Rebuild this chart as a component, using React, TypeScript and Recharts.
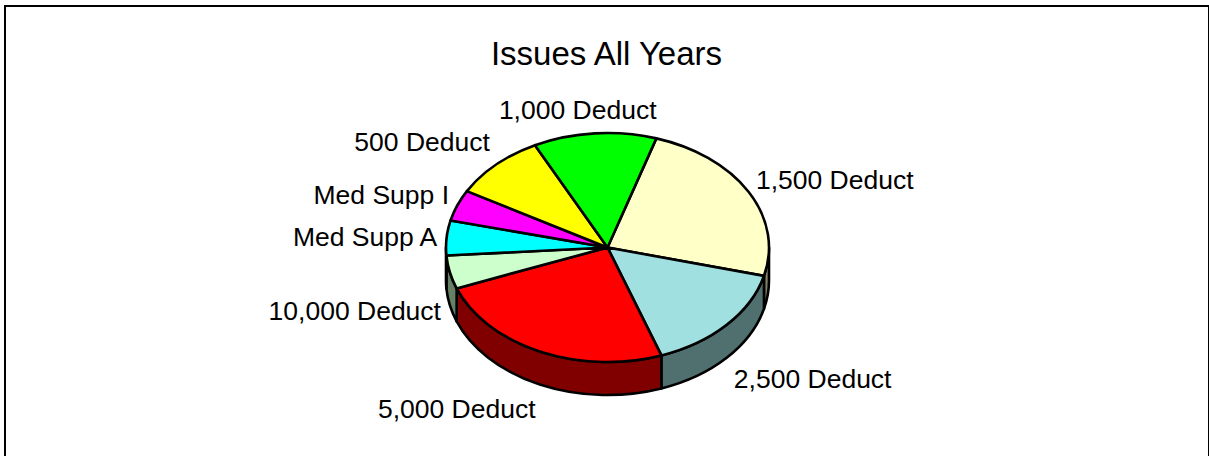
import React from "react";
import { PieChart, Pie, Cell } from "recharts";

const planNames = ["1,500 Deduct", "2,500 Deduct", "5,000 Deduct", "10,000 Deduct", "Med Supp A", "Med Supp I", "500 Deduct", "1,000 Deduct"];
const planShares = [24.1, 15.6, 24.6, 4.7, 4.9, 4.4, 9.4, 12.3];
const topColors = ["#FFFFC8", "#A0E0E0", "#FF0000", "#CCFFCC", "#00FFFF", "#FF00FF", "#FFFF00", "#00FF00"];
const wallColors = ["#808064", "#507070", "#800000", "#668066", "#008080", "#800080", "#808000", "#008000"];

const pieData = planNames.map((name, i) => ({ name, value: planShares[i] }));

const WIDTH = 1209;
const HEIGHT = 456;
const CENTER_X = 607.5;
const CENTER_Y = 247.5;
const RADIUS_X = 161.5;
const TILT = 114.5 / 161.5;
const DEPTH = 33;
const LINE = 2.6;
const FONT = "'Liberation Sans', Arial, sans-serif";
const RAD = Math.PI / 180;

// Offset of each label's centre from the rim point at the slice's mid angle.
const labelOffsets: [number, number][] = [
  [86, -12],
  [86, 54],
  [-83, 58],
  [-95, 39],
  [-81.5, -1],
  [-76, -10],
  [-74, -23],
  [-17, -23],
];

const rimPoint = (cx: number, cy: number, rx: number, deg: number) => ({
  x: cx + rx * Math.cos(deg * RAD),
  y: cy - rx * TILT * Math.sin(deg * RAD),
});

// Flattened slice: the top face of the disc.
const TopSlice = (props: any) => {
  const { cx, cy, outerRadius: rx, startAngle, endAngle, fill } = props;
  const a = rimPoint(cx, cy, rx, startAngle);
  const b = rimPoint(cx, cy, rx, endAngle);
  const large = Math.abs(startAngle - endAngle) > 180 ? 1 : 0;
  const d = `M${cx},${cy}L${a.x},${a.y}A${rx},${rx * TILT} 0 ${large} 1 ${b.x},${b.y}Z`;
  return <path d={d} fill={fill} stroke="#000" strokeWidth={LINE} strokeLinejoin="round" />;
};

// Front-facing part of the rim, extruded downward.
const WallSlice = (props: any) => {
  const { cx, cy, outerRadius: rx, startAngle, endAngle, fill } = props;
  const lowAngle = Math.min(startAngle, endAngle);
  const highAngle = Math.max(startAngle, endAngle);
  const parts: React.ReactNode[] = [];
  [-360, 0, 360].forEach((turn) => {
    const lo = Math.max(lowAngle, turn - 180);
    const hi = Math.min(highAngle, turn);
    if (hi <= lo) return;
    const a = rimPoint(cx, cy, rx, hi);
    const b = rimPoint(cx, cy, rx, lo);
    const ry = rx * TILT;
    const d = `M${a.x},${a.y}A${rx},${ry} 0 0 1 ${b.x},${b.y}L${b.x},${b.y + DEPTH}A${rx},${ry} 0 0 0 ${a.x},${a.y + DEPTH}Z`;
    parts.push(<path key={turn} d={d} fill={fill} stroke="#000" strokeWidth={LINE} strokeLinejoin="round" />);
  });
  return <g>{parts}</g>;
};

const SliceLabel = (props: any) => {
  const { cx, cy, outerRadius, midAngle, index, name } = props;
  const rim = rimPoint(cx, cy, outerRadius, midAngle);
  const [dx, dy] = labelOffsets[index];
  return (
    <text x={rim.x + dx} y={rim.y + dy} textAnchor="middle" dominantBaseline="central" fontFamily={FONT} fontSize={26.5} fill="#000">
      {name}
    </text>
  );
};

export default function App() {
  return (
    <div style={{ position: "absolute", left: 0, top: 0, width: WIDTH, height: HEIGHT, overflow: "hidden", background: "#fff" }}>
      <div style={{ position: "absolute", left: 4, top: 5, width: 1202, height: 480, border: "2px solid #000" }} />
      <PieChart width={WIDTH} height={HEIGHT} margin={{ top: 0, right: 0, bottom: 0, left: 0 }} style={{ position: "absolute", left: 0, top: 0 }}>
        <text x={606.5} y={53} textAnchor="middle" dominantBaseline="central" fontFamily={FONT} fontSize={33} fill="#000">
          Issues All Years
        </text>
        <Pie
          data={pieData}
          dataKey="value"
          nameKey="name"
          cx={CENTER_X}
          cy={CENTER_Y}
          innerRadius={0}
          outerRadius={RADIUS_X}
          startAngle={72.4}
          endAngle={-287.6}
          shape={WallSlice}
          isAnimationActive={false}
        >
          {pieData.map((d, i) => (
            <Cell key={d.name} fill={wallColors[i]} />
          ))}
        </Pie>
        <Pie
          data={pieData}
          dataKey="value"
          nameKey="name"
          cx={CENTER_X}
          cy={CENTER_Y}
          innerRadius={0}
          outerRadius={RADIUS_X}
          startAngle={72.4}
          endAngle={-287.6}
          shape={TopSlice}
          label={SliceLabel}
          labelLine={false}
          isAnimationActive={false}
        >
          {pieData.map((d, i) => (
            <Cell key={d.name} fill={topColors[i]} />
          ))}
        </Pie>
      </PieChart>
    </div>
  );
}
